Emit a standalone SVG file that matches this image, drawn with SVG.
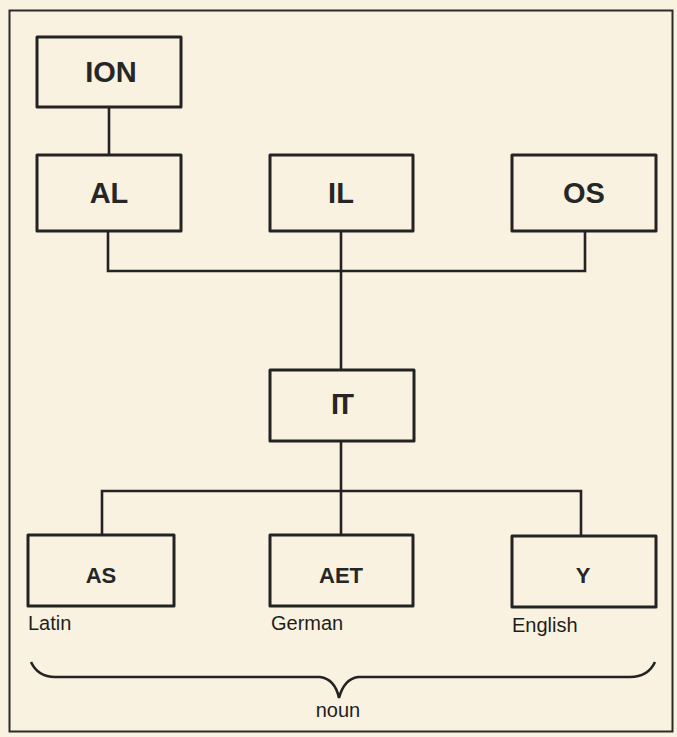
<svg xmlns="http://www.w3.org/2000/svg" width="677" height="737" viewBox="0 0 677 737">
<style>
.box{fill:none;stroke:#232323;stroke-width:3;stroke-linejoin:round}
.ln{fill:none;stroke:#232323;stroke-width:2.6}
.big{font-family:"Liberation Sans",Arial,sans-serif;font-weight:bold;font-size:29px;fill:#262626;text-anchor:middle}
.small{font-family:"Liberation Sans",Arial,sans-serif;font-weight:bold;font-size:22px;fill:#262626;text-anchor:middle}
.lab{font-family:"Liberation Sans",Arial,sans-serif;font-size:20px;fill:#1e1e1e}
</style>
<rect x="0" y="0" width="677" height="737" fill="#f9f2e0"/>
<rect x="9.5" y="10.5" width="663" height="721" fill="none" stroke="#2a2a2a" stroke-width="2"/>
<g id="connectors">
<path class="ln" d="M109 107 V155"/>
<path class="ln" d="M108 231 V271 H585 V231"/>
<path class="ln" d="M341 231 V370"/>
<path class="ln" d="M341 441 V491"/>
<path class="ln" d="M102 535 V491 H581 V535"/>
<path class="ln" d="M341 491 V535"/>
<path class="ln" d="M31 662 Q38 677 55 677 L320 677 Q335 679 339 698 Q344 679 358 677 L630 677 Q648 677 655 662"/>
</g>
<g id="ION"><rect class="box" x="37" y="37" width="144" height="70"/><text class="big" x="111" y="82">ION</text></g>
<g id="AL"><rect class="box" x="37" y="155" width="144" height="76"/><text class="big" x="109" y="203">AL</text></g>
<g id="IL"><rect class="box" x="270" y="155" width="143" height="76"/><text class="big" x="341" y="203">IL</text></g>
<g id="OS"><rect class="box" x="512" y="155" width="144" height="76"/><text class="big" x="584" y="203">OS</text></g>
<g id="IT"><rect class="box" x="270" y="370" width="144" height="71"/><text class="big" x="341" y="414" letter-spacing="-3">IT</text></g>
<g id="AS"><rect class="box" x="28" y="535" width="146" height="71"/><text class="small" x="101" y="583">AS</text></g>
<g id="AET"><rect class="box" x="270" y="535" width="143" height="71"/><text class="small" x="341" y="583">AET</text></g>
<g id="Y"><rect class="box" x="512" y="536" width="144" height="71"/><text class="small" x="583" y="583">Y</text></g>
<text class="lab" x="28" y="630">Latin</text>
<text class="lab" x="271" y="630">German</text>
<text class="lab" x="512" y="632">English</text>
<text class="lab" x="338" y="717" text-anchor="middle">noun</text>
</svg>
